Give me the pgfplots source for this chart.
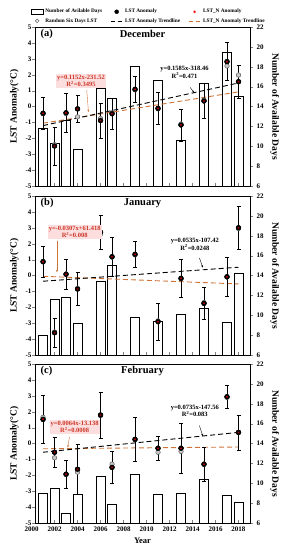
\documentclass[border=0pt]{standalone}
\usepackage{fontspec}
\setmainfont{Liberation Serif}
\usepackage{pgfplots}
\pgfplotsset{compat=1.18}
\usepackage{pgfplotstable}
\usetikzlibrary{arrows.meta}
\definecolor{trendN}{RGB}{205,115,55}
\definecolor{redtxt}{RGB}{205,55,40}
\definecolor{pinkbg}{RGB}{252,222,222}

\pgfplotstableread{
year lst err gray days
2001 -0.43 1.0 -0.45 11.8
2002 -2.48 1.2 -2.40 10.3
2003 -0.40 1.25 -0.45 12.6
2004 -0.15 0.85 -0.65 9.7
2006 -0.88 1.1 -0.75 15.8
2007 -0.45 1.0 -0.40 14.8
2009 1.08 0.8 1.05 18.0
2011 -0.12 1.0 -0.15 16.6
2013 -1.16 1.0 -1.10 10.6
2015 0.35 1.1 0.40 16.3
2017 2.82 1.2 2.55 19.5
2018 1.56 1.05 1.98 15.05
}\tabA
\pgfplotstableread{
year lst err gray days
2001 0.87 1.0 0.87 8.0
2002 -3.60 0.9 -3.55 11.6
2003 0.08 0.95 0.10 11.8
2004 -0.85 1.05 -0.80 9.2
2006 2.72 1.1 2.60 13.4
2007 1.18 1.25 1.15 15.0
2009 1.33 0.8 1.30 9.75
2011 -2.90 1.15 -2.85 9.4
2013 -0.18 1.2 -0.20 10.1
2015 -1.75 1.0 -1.70 10.7
2017 -0.08 1.2 -0.10 9.25
2018 3.00 1.35 2.95 14.2
}\tabB
\pgfplotstableread{
year lst err gray days
2001 1.52 1.5 1.65 9.0
2002 -0.55 0.97 -0.90 9.5
2003 -1.93 0.9 -1.95 7.0
2004 -1.62 1.6 -1.80 8.9
2006 1.79 1.45 1.75 10.7
2007 -1.50 1.0 -1.30 7.9
2009 0.26 1.4 0.25 10.9
2011 -0.30 0.75 -0.55 8.9
2013 -0.30 1.6 -0.50 9.0
2015 -1.30 1.05 -1.30 10.4
2017 2.94 0.72 2.90 8.8
2018 0.70 1.1 0.70 8.1
}\tabC

\pgfplotsset{
  base/.style={scale only axis, width=215pt, height=159pt, xmin=2000.3, xmax=2019,
    anchor=south west,
    /pgf/number format/assume math mode=true, /pgf/number format/1000 sep={},
    ticklabel style={font=\fontsize{7}{8}\selectfont\bfseries},
    label style={font=\fontsize{9.5}{10}\selectfont\bfseries}},
  barax/.style={base, ymin=6, ymax=22, ytick={6,8,...,22},
    axis y line*=right, axis x line=none, tick align=outside, major tick length=3pt,
    ylabel={Number of Available Days}, ylabel style={rotate=180}},
  ptax/.style={base, ymin=-5, ymax=5, ytick={-5,...,5},
    xtick={2000,2002,...,2018}, minor x tick num=1, xtick pos=bottom, ytick pos=left,
    tick align=inside, major tick length=3pt, minor tick length=2pt,
    y tick style={xshift=-3pt}, clip mode=individual,
    ylabel={LST Anomaly(°C)}},
  errpts/.style={only marks, mark=*, mark size=2.4pt, black,
    error bars/y dir=both, error bars/y explicit,
    error bars/error bar style={line width=0.5pt, black},
    error bars/error mark options={rotate=90, mark size=2pt, black, line width=0.5pt}},
  graypts/.style={only marks, mark=*, mark size=2.3pt,
    mark options={fill=gray!45, draw=gray!60!black, line width=0.4pt}},
  redpts/.style={only marks, mark=asterisk, mark size=1pt, red!75!black, line width=0.35pt},
  trendL/.style={black, line width=0.9pt, dash pattern=on 5pt off 3pt},
  trendR/.style={trendN, line width=0.9pt, dash pattern=on 5pt off 3pt},
}
\newcommand{\ttl}{\fontsize{10.5}{11}\selectfont\bfseries}
\newcommand{\ann}{\fontsize{6.5}{7.5}\selectfont\bfseries}

\begin{document}
\begin{tikzpicture}
\useasboundingbox (0,0) rectangle (283pt,550pt);

% ---------- (a) December ----------
\begin{axis}[barax, at={(35pt,364pt)}]
\addplot[ybar, bar width=0.8, fill=white, draw=black, line width=0.5pt] table[x=year,y=days] {\tabA};
\end{axis}
\begin{axis}[ptax, at={(35pt,364pt)}, xticklabels={},
  legend style={at={(-0.02,1.008)}, anchor=south west, draw=none, fill=none,
    font=\fontsize{5.3}{6}\selectfont\bfseries, inner sep=0pt,
    /tikz/every even column/.append style={column sep=6pt}},
  legend columns=3, legend cell align=left]
\addlegendimage{legend image code/.code={\draw[black,fill=white,line width=0.5pt] (0pt,-2.5pt) rectangle (12pt,2.5pt);}}
\addlegendentry{Number of Avilable Days}
\addlegendimage{legend image code/.code={\draw[black] plot[mark=*, mark size=2pt] coordinates {(6pt,0pt)};}}
\addlegendentry{LST Anomaly}
\addlegendimage{legend image code/.code={\draw[red, line width=0.4pt] plot[mark=asterisk, mark size=1.4pt] coordinates {(6pt,0pt)};}}
\addlegendentry{LST\_N Anomaly}
\addlegendimage{legend image code/.code={\draw[gray!70!black, line width=0.5pt] plot[mark=o, mark size=1.8pt] coordinates {(6pt,0pt)};}}
\addlegendentry{Random Six Days LST}
\addlegendimage{legend image code/.code={\draw[black, line width=0.8pt, dash pattern=on 4pt off 3pt] (0pt,0pt)--(12pt,0pt);}}
\addlegendentry{LST Anomaly Trendline}
\addlegendimage{legend image code/.code={\draw[trendN, line width=0.8pt, dash pattern=on 4pt off 3pt] (0pt,0pt)--(12pt,0pt);}}
\addlegendentry{LST\_N Anomaly Trendline}
\addplot[forget plot, trendR] coordinates {(2001,-1.05) (2018,0.92)};
\addplot[forget plot, trendL] coordinates {(2001,-1.2) (2018,1.48)};
\addplot[forget plot, errpts] table[x=year, y=lst, y error=err] {\tabA};
\addplot[forget plot, graypts] table[x=year, y=gray] {\tabA};
\addplot[forget plot, only marks, mark=*, mark size=2.4pt, black] table[x=year, y=lst] {\tabA};
\addplot[forget plot, redpts] table[x=year, y=lst] {\tabA};
\node[font=\ttl, anchor=west] at (axis description cs:0.01,0.955) {(a)};
\node[font=\ttl] at (axis description cs:0.5,0.955) {December};
\node[font=\ann, align=center, inner sep=1pt] at (axis cs:2013.3,2.15) {y=0.1585x-318.46\\R\textsuperscript{2}=0.471};
\draw[-{Stealth[length=2.5pt,width=2pt]}, black, line width=0.4pt] (axis cs:2013.8,1.2) -- (axis cs:2014.15,0.85);
\node[font=\ann, align=center, text=redtxt, fill=pinkbg, inner sep=1pt] at (axis cs:2004.3,1.6) {y=0.1152x-231.52\\R\textsuperscript{2}=0.3495};
\draw[-{Stealth[length=2.5pt,width=2pt]}, trendN, line width=0.4pt] (axis cs:2004.8,1.05) -- (axis cs:2004.95,-0.35);
\end{axis}

% ---------- (b) January ----------
\begin{axis}[barax, at={(35pt,195pt)}]
\addplot[ybar, bar width=0.8, fill=white, draw=black, line width=0.5pt] table[x=year,y=days] {\tabB};
\end{axis}
\begin{axis}[ptax, at={(35pt,195pt)}, xticklabels={}]
\addplot[trendR] coordinates {(2001,-0.05) (2018,-0.53)};
\addplot[trendL] coordinates {(2001,-0.36) (2018,0.52)};
\addplot[errpts] table[x=year, y=lst, y error=err] {\tabB};
\addplot[graypts] table[x=year, y=gray] {\tabB};
\addplot[only marks, mark=*, mark size=2.4pt, black] table[x=year, y=lst] {\tabB};
\addplot[redpts] table[x=year, y=lst] {\tabB};
\node[font=\ttl, anchor=west] at (axis description cs:0.01,0.955) {(b)};
\node[font=\ttl] at (axis description cs:0.5,0.955) {January};
\node[font=\ann, align=center, inner sep=1pt] at (axis cs:2014.2,1.95) {y=0.0535x-107.42\\R\textsuperscript{2}=0.0248};
\draw[-{Stealth[length=2.5pt,width=2pt]}, black, line width=0.4pt] (axis cs:2014.6,1.1) -- (axis cs:2014.9,0.5);
\node[font=\ann, align=center, text=redtxt, fill=pinkbg, inner sep=1pt] at (axis cs:2003.75,2.75) {y=-0.0307x+61.418\\R\textsuperscript{2}=0.008};
\draw[-{Stealth[length=2.5pt,width=2pt]}, trendN, line width=0.4pt] (axis cs:2002.2,2.2) -- (axis cs:2002.2,0.2);
\end{axis}

% ---------- (c) February ----------
\begin{axis}[barax, at={(35pt,27pt)}]
\addplot[ybar, bar width=0.8, fill=white, draw=black, line width=0.5pt] table[x=year,y=days] {\tabC};
\end{axis}
\begin{axis}[ptax, at={(35pt,27pt)}, xlabel={Year},
  xlabel style={font=\fontsize{8.5}{9}\selectfont\bfseries}]
\addplot[trendR] coordinates {(2001,-0.33) (2018,-0.22)};
\addplot[trendL] coordinates {(2001,-0.55) (2018,0.7)};
\addplot[errpts] table[x=year, y=lst, y error=err] {\tabC};
\addplot[graypts] table[x=year, y=gray] {\tabC};
\addplot[only marks, mark=*, mark size=2.4pt, black] table[x=year, y=lst] {\tabC};
\addplot[redpts] table[x=year, y=lst] {\tabC};
\node[font=\ttl, anchor=west] at (axis description cs:0.01,0.955) {(c)};
\node[font=\ttl] at (axis description cs:0.5,0.955) {February};
\node[font=\fontsize{7}{8}\selectfont\bfseries, anchor=north] at (axis cs:2000,-5) {2000};
\node[font=\ann, align=center, inner sep=1pt] at (axis cs:2014.2,2.05) {y=0.0735x-147.56\\R\textsuperscript{2}=0.083};
\draw[-{Stealth[length=2.5pt,width=2pt]}, black, line width=0.4pt] (axis cs:2014.6,1.13) -- (axis cs:2014.9,0.45);
\node[font=\ann, align=center, text=redtxt, fill=pinkbg, inner sep=1pt] at (axis cs:2003.75,1.05) {y=0.0064x-13.138\\R\textsuperscript{2}=0.0008};
\draw[-{Stealth[length=2.5pt,width=2pt]}, trendN, line width=0.4pt] (axis cs:2003.3,0.42) -- (axis cs:2003.15,-0.25);
\end{axis}
\end{tikzpicture}
\end{document}
